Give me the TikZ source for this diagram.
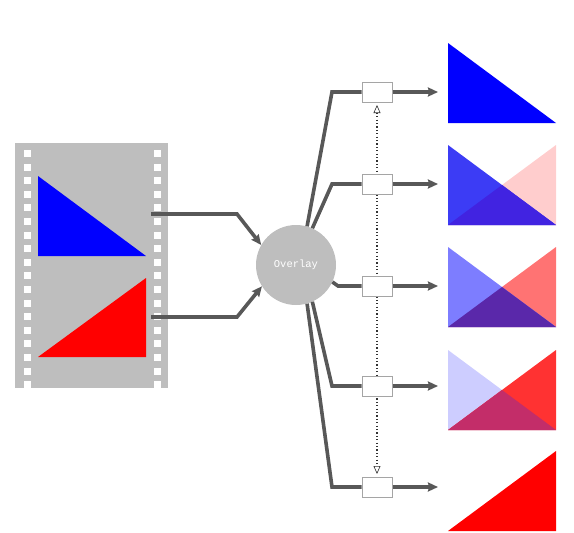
\documentclass[tikz,border=0pt]{standalone}
\usepackage{fontspec}
\setmonofont{Liberation Mono}
\usetikzlibrary{arrows.meta}
\definecolor{filmgrey}{RGB}{190,190,190}
\definecolor{wire}{RGB}{88,88,88}
\definecolor{boxedge}{RGB}{165,165,165}
\definecolor{dotline}{RGB}{50,50,50}
\definecolor{blueA}{RGB}{60,60,245}
\definecolor{redA}{RGB}{255,205,205}
\definecolor{mixA}{RGB}{65,35,225}
\definecolor{blueB}{RGB}{125,125,255}
\definecolor{redB}{RGB}{255,115,115}
\definecolor{mixB}{RGB}{90,40,170}
\definecolor{blueC}{RGB}{205,205,255}
\definecolor{redC}{RGB}{255,50,50}
\definecolor{mixC}{RGB}{195,45,105}
\tikzset{
  x=1pt,y=-1pt,
  wirefeed/.style={draw=wire,line width=3.6pt,line join=miter},
  wirearrow/.style={wirefeed,-{Stealth[length=10pt,width=9pt,inset=1pt]}},
  ctrl/.style={draw=boxedge,fill=white,line width=1pt,minimum width=30pt,minimum height=20pt,inner sep=0pt},
  hub/.style={circle,fill=filmgrey,minimum size=80pt,inner sep=0pt,text=white,font=\ttfamily\fontsize{10.5}{10.5}\selectfont},
  link/.style={draw=dotline,line width=1.1pt,dash pattern=on 1.2pt off 2.2pt},
  hole/.style={fill=white,draw=none},
  hollowtip/.tip={Triangle[open,length=8pt,width=7pt,fill=white,line width=.6pt]},
}
\newcommand{\bluetri}[1]{(448,#1) -- (448,#1+80) -- (556,#1+80) -- cycle}
\newcommand{\redtri}[1]{(556,#1) -- (556,#1+80) -- (448,#1+80) -- cycle}
\newcommand{\mixtri}[1]{(502,#1+40) -- (556,#1+80) -- (448,#1+80) -- cycle}
\begin{document}
\begin{tikzpicture}
\useasboundingbox (0,0) rectangle (574,533);
% film strip
\fill[filmgrey] (15,143) rectangle (168,388);
\foreach \k in {0,...,16}{
  \fill[hole] (24,150+13.6*\k) rectangle (31,157+13.6*\k);
  \fill[hole] (154,150+13.6*\k) rectangle (161,157+13.6*\k);
}
\fill[hole] (24,381) rectangle (31,388);
\fill[hole] (154,381) rectangle (161,388);
\fill[blue] (38,176) -- (38,256) -- (146,256) -- cycle;
\fill[red] (146,278) -- (146,357) -- (38,357) -- cycle;
% panels
\fill[blue] \bluetri{43};
\fill[redA] \redtri{145};
\fill[blueA] \bluetri{145};
\fill[mixA] \mixtri{145};
\fill[redB] \redtri{247};
\fill[blueB] \bluetri{247};
\fill[mixB] \mixtri{247};
\fill[blueC] \bluetri{350};
\fill[redC] \redtri{350};
\fill[mixC] \mixtri{350};
\fill[red] \redtri{451};
% nodes
\coordinate (t1) at (377,105);
\coordinate (t5) at (377,474);
\draw[link,hollowtip-hollowtip] (t1) -- (t5);
\node[hub] (ov) at (296,265) {Overlay};
\node[ctrl] (b1) at (377,92) {};
\node[ctrl] (b2) at (377,184) {};
\node[ctrl] (b3) at (377,286) {};
\node[ctrl] (b4) at (377,386) {};
\node[ctrl] (b5) at (377,487) {};
% free ends
\coordinate (f1) at (151,214);
\coordinate (f2) at (151,317);
\coordinate (e1) at (438,92);
\coordinate (e2) at (438,184);
\coordinate (e3) at (438,286);
\coordinate (e4) at (438,386);
\coordinate (e5) at (438,487);
% connectors
\draw[wirearrow] (f1) -- (237,214) -- (ov.150);
\draw[wirearrow] (f2) -- (237,317) -- (ov.212);
\draw[wirefeed] (ov.74) -- (332,92) -- (b1.west);
\draw[wirefeed] (ov.66) -- (332,184) -- (b2.west);
\draw[wirefeed] (ov.-25) -- (338,286) -- (b3.west);
\draw[wirefeed] (ov.-66) -- (332,386) -- (b4.west);
\draw[wirefeed] (ov.-74) -- (332,487) -- (b5.west);
\draw[wirearrow] (b1.east) -- (e1);
\draw[wirearrow] (b2.east) -- (e2);
\draw[wirearrow] (b3.east) -- (e3);
\draw[wirearrow] (b4.east) -- (e4);
\draw[wirearrow] (b5.east) -- (e5);
\end{tikzpicture}
\end{document}
